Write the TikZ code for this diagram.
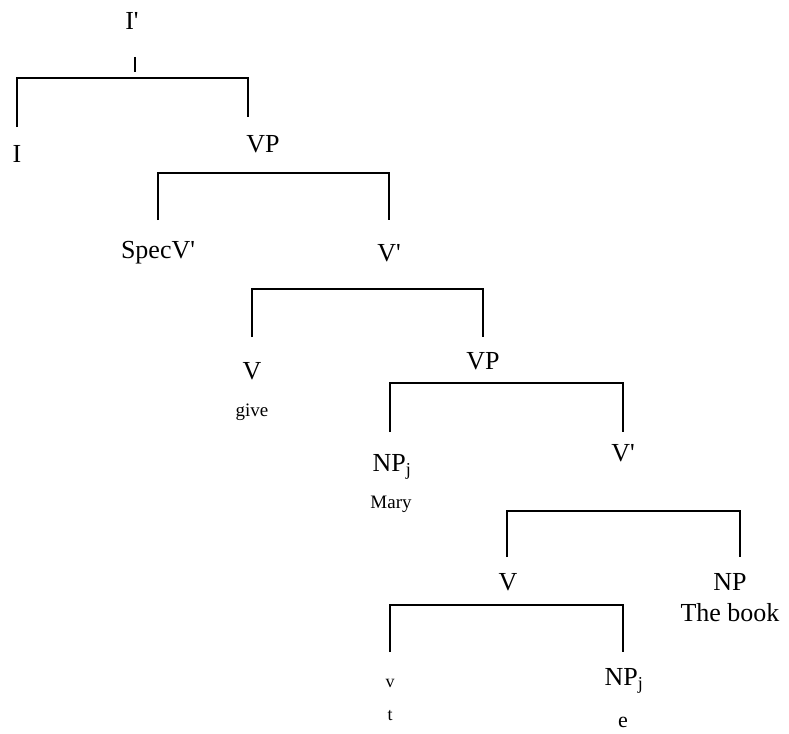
\documentclass[tikz,border=0pt]{standalone}
\usepackage{fontspec}
\newfontfamily\treefont{Liberation Serif}
\usetikzlibrary{calc,positioning}
\tikzset{
    cat/.style={inner sep=0pt, font=\treefont\fontsize{26}{30}\selectfont, text height=17pt, text depth=0pt},
    word/.style={inner sep=0pt, font=\treefont\fontsize{19}{22}\selectfont, text height=9pt, text depth=0pt},
    branch/.style={draw, line width=2pt, line cap=butt, line join=miter},
}
\begin{document}
\begin{tikzpicture}[x=1pt,y=-1pt]
    \useasboundingbox (0,0) rectangle (789,733);

    % category labels
    \node[cat] (ibar) at (132,21) {I'};
    \node[cat] (i) at (17,154) {I};
    \node[cat] (vp1) at (263,144) {VP};
    \node[cat] (spec) at (158,250) {SpecV'};
    \node[cat] (vbar1) at (389,253) {V'};
    \node[cat] (v1) at (252,371) {V};
    \node[word] (give) at (252,412) {give};
    \node[cat] (vp2) at (483,361) {VP};
    \node[cat] (npj1) at (392,463) {NP\textsubscript{j}};
    \node[word] (mary) at (391,504) {Mary};
    \node[cat] (vbar2) at (623,453) {V'};
    \node[cat] (v2) at (508,582) {V};
    \node[cat] (np) at (730,582) {NP};
    \node[cat, text height=19pt] (book) at (730,612) {The book};
    \node[word, font=\treefont\fontsize{18}{20}\selectfont] (vt) at (390,683) {v};
    \node[cat] (npj2) at (624,677) {NP\textsubscript{j}};
    \node[word, font=\treefont\fontsize{18}{20}\selectfont] (t) at (390,716) {t};
    \node[word, font=\treefont\fontsize{22}{24}\selectfont] (e) at (623,723) {e};

    % brackets
    \coordinate (b1) at (135,78);
    \coordinate (b2) at (273,173);
    \coordinate (b3) at (367,289);
    \coordinate (b4) at (506,383);
    \coordinate (b5) at (623,511);
    \coordinate (b6) at (506,605);

    \draw[branch] ($(b1)+(0,-21)$) -- ($(b1)+(0,-6)$);
    \draw[branch] ($(i |- b1)+(0,49)$) -- (i |- b1) -- ($(vp1 |- b1)+(-15,0)$) -- ($(vp1 |- b1)+(-15,39)$);
    \draw[branch] ($(spec |- b2)+(0,47)$) -- (spec |- b2) -- (vbar1 |- b2) -- ($(vbar1 |- b2)+(0,47)$);
    \draw[branch] ($(v1 |- b3)+(0,48)$) -- (v1 |- b3) -- (vp2 |- b3) -- ($(vp2 |- b3)+(0,48)$);
    \draw[branch] ($(npj1 |- b4)+(-2,49)$) -- ($(npj1 |- b4)+(-2,0)$) -- (vbar2 |- b4) -- ($(vbar2 |- b4)+(0,49)$);
    \draw[branch] ($(v2 |- b5)+(-1,46)$) -- ($(v2 |- b5)+(-1,0)$) -- ($(np |- b5)+(10,0)$) -- ($(np |- b5)+(10,46)$);
    \draw[branch] ($(vt |- b6)+(0,47)$) -- (vt |- b6) -- ($(npj2 |- b6)+(-1,0)$) -- ($(npj2 |- b6)+(-1,47)$);
\end{tikzpicture}
\end{document}
